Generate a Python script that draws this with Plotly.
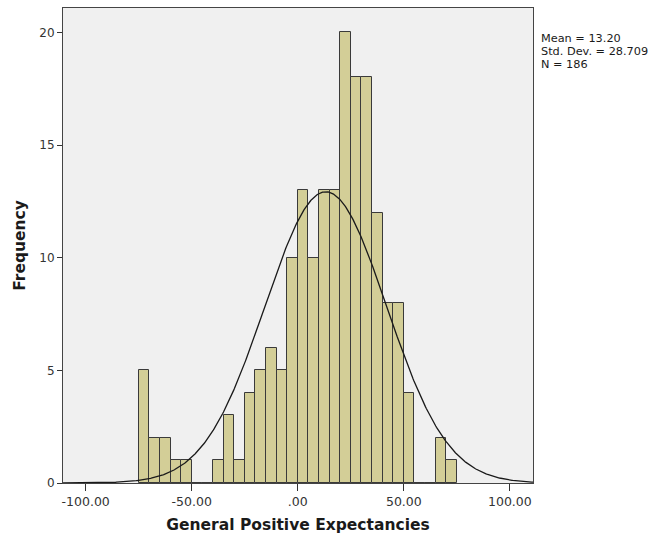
import numpy as np
import plotly.graph_objects as go

# Histogram of General Positive Expectancies (bin width 5, first bin starts at -75)
bin_starts = [-75, -70, -65, -60, -55, -50, -45, -40, -35, -30, -25, -20, -15, -10, -5,
              0, 5, 10, 15, 20, 25, 30, 35, 40, 45, 50, 55, 60, 65, 70]
counts = [5, 2, 2, 1, 1, 0, 0, 1, 3, 1, 4, 5, 6, 5, 10,
          13, 10, 13, 13, 20, 18, 18, 12, 8, 8, 4, 0, 0, 2, 1]
bin_width = 5

# Summary statistics shown beside the chart
mean_val = 13.20
std_val = 28.709
n_val = 186

tick_vals = [-100, -50, 0, 50, 100]
tick_text = ["-100.00", "-50.00", ".00", "50.00", "100.00"]

centers = [b + bin_width / 2 for b in bin_starts]

# Fitted normal curve scaled to frequency
xs = np.linspace(-111, 111, 600)
ys = n_val * bin_width / (std_val * np.sqrt(2 * np.pi)) * np.exp(-0.5 * ((xs - mean_val) / std_val) ** 2)

fig = go.Figure()
fig.add_trace(go.Bar(
    x=centers, y=counts, width=bin_width,
    marker=dict(color="#D3CE97", line=dict(color="#3a3a3a", width=1)),
    hoverinfo="x+y",
))
fig.add_trace(go.Scatter(
    x=xs, y=ys, mode="lines",
    line=dict(color="#1a1a1a", width=1.3),
    hoverinfo="skip",
))

font_family = "DejaVu Sans, sans-serif"

stats_lines = [
    f"Mean = {mean_val:.2f}",
    f"Std. Dev. = {std_val:.3f}",
    f"N = {n_val}",
]
stats_y = [0.9363, 0.9089, 0.8815]
annotations = [
    dict(x=1.012, y=yy, xref="paper", yref="paper",
         xanchor="left", yanchor="middle", align="left", showarrow=False,
         text=t, font=dict(size=11.3, color="#1a1a1a"))
    for t, yy in zip(stats_lines, stats_y)
]

fig.update_layout(
    width=657, height=542,
    margin=dict(l=63, r=124, t=8, b=59),
    paper_bgcolor="white",
    plot_bgcolor="#F0F0F0",
    showlegend=False,
    bargap=0,
    font=dict(family=font_family, size=12, color="#333333"),
    xaxis=dict(
        range=[-110.7, 110.9],
        tickvals=tick_vals, ticktext=tick_text,
        ticks="outside", ticklen=7, tickcolor="#333333",
        showgrid=False, zeroline=False,
        showline=True, linecolor="#444444", linewidth=1, mirror=True,
        tickfont=dict(size=12.5, color="#333333"),
        title=dict(text="<b>General Positive Expectancies</b>",
                   font=dict(size=15.5, color="#1a1a1a"), standoff=11),
    ),
    yaxis=dict(
        range=[0, 21.08],
        tickvals=[0, 5, 10, 15, 20],
        ticks="outside", ticklen=5, tickcolor="#333333",
        showgrid=False, zeroline=False,
        showline=True, linecolor="#444444", linewidth=1, mirror=True,
        tickfont=dict(size=12, color="#333333"),
        title=dict(text="<b>Frequency</b>",
                   font=dict(size=15.5, color="#1a1a1a"), standoff=9),
    ),
    annotations=annotations,
)

fig.write_html("out.html")
